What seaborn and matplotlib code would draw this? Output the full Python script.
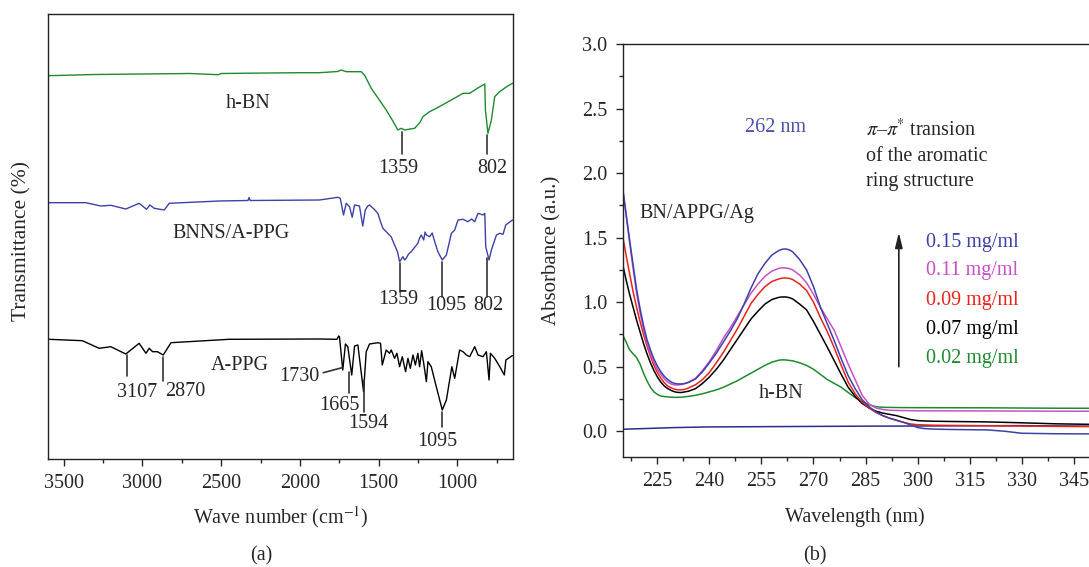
import matplotlib
matplotlib.use("Agg")
import matplotlib.pyplot as plt
import seaborn as sns
import numpy as np
from matplotlib.ticker import MultipleLocator

# ---------------- data: (a) FTIR spectra ----------------
hbn_wn = [3600, 3300, 3000, 2700, 2520, 2500, 2200, 2000, 1876, 1760, 1738, 1706, 1611, 1590, 1547,
          1500, 1452, 1410, 1378, 1356, 1335, 1300, 1272, 1240, 1219, 1180, 1134, 1050, 964, 922, 870, 826,
          822, 806, 784, 763, 732, 690, 650]
hbn_t = [383.3, 384.5, 385, 385.5, 384.3, 385.5, 386, 386.3, 386.3, 387.5, 389, 387.3, 387.3, 384, 370.7,
         360, 349, 338, 329, 330.7, 329, 330, 330.7, 336, 342.3, 347, 350.7, 358, 365.7, 365.7, 371, 375,
         349, 325.7, 339, 362.3, 367.3, 372, 375.7]

bnns_wn = [3600, 3593, 3360, 3265, 3201, 3106, 3021, 2974, 2953, 2926, 2862, 2830, 2512, 2330, 2323, 2316,
           1876, 1760, 1744, 1723, 1706, 1685, 1668, 1653, 1622, 1601, 1585, 1569, 1558, 1530, 1505, 1490,
           1473, 1442, 1420, 1399, 1380, 1367, 1346, 1335, 1325, 1310, 1293, 1270, 1251, 1240, 1229, 1214,
           1205, 1197, 1176, 1160, 1144, 1124, 1096, 1070, 1038, 1017, 996, 964, 933, 910, 890, 869, 837,
           826, 820, 799, 784, 752, 731, 710, 693, 650]
bnns_t = [257, 256.3, 256.3, 253, 253.7, 250, 255.7, 249.7, 254, 250.7, 249, 255.7, 258, 258.5, 261.5, 258.5,
          259, 261.7, 260.7, 244, 255.7, 252.3, 241.7, 254, 253, 233, 249, 253, 254, 250, 245.7, 238,
          230.7, 225.7, 222, 214, 207, 197.3, 202.3, 199, 200.7, 205, 207.3, 212, 215.7, 221, 224, 219,
          227, 224, 222.3, 226, 217.3, 207.3, 199, 204, 225.7, 229, 239, 239.7, 237.3, 240, 237.3, 245.7, 244,
          245.7, 212.3, 199, 209, 224, 225.7, 224.7, 234, 239]

appg_wn = [3600, 3593, 3382, 3275, 3201, 3106, 3021, 2978, 2957, 2936, 2905, 2868, 2819, 2449, 1876, 1765,
           1754, 1749, 1728, 1711, 1696, 1671, 1653, 1632, 1596, 1579, 1558, 1505, 1488, 1477, 1452, 1431,
           1420, 1399, 1384, 1367, 1350, 1329, 1314, 1299, 1282, 1267, 1251, 1240, 1227, 1214, 1197, 1187,
           1166, 1134, 1096, 1070, 1049, 1035, 1017, 986, 964, 943, 922, 890, 869, 837, 816, 799, 790, 763,
           731, 702, 692, 652, 650]
appg_t = [119.7, 119.7, 118.3, 110.7, 112.3, 105, 115.7, 105.7, 110.7, 107.3, 107.3, 104, 116.3, 119.7, 120, 119.7,
          123, 122.3, 89, 115, 112.3, 84, 113, 114, 67.3, 107.3, 115, 116.3, 115.7, 94, 109, 105.7,
          109, 100.7, 105.7, 92.3, 102.3, 87.3, 100.7, 90.7, 104, 94, 105.7, 92.3, 108.3, 95.7, 77.3, 97.3,
          92.3, 72.3, 49, 59, 79, 92.3, 80.7, 109, 107.3, 104, 102.3, 112.3, 104, 102.3, 107.3, 79, 105.7, 100.7,
          92.3, 84, 99, 103.3, 103.3]

# peak labels (a)
hbn_peaks = [1359, 802]
bnns_peaks = [1359, 1095, 802]
appg_peaks = [3107, 2870, 1730, 1665, 1594, 1095]

# ---------------- data: (b) UV-vis spectra ----------------
wl_015 = [215, 216, 217, 218, 219, 220, 221, 222, 223, 224, 225, 226, 227, 228, 229, 230, 231, 232, 233, 234,
          236, 238, 240, 242, 244, 246, 248, 250, 252, 254, 256, 258, 260, 261, 262, 263, 264, 266, 268, 270,
          272, 274, 276, 278, 280, 282, 284, 286, 288, 290, 292, 294, 296, 298, 300, 302, 305, 310, 320, 325,
          330, 340, 350, 360]
ab_015 = [1.88, 1.68, 1.48, 1.29, 1.10, 0.95, 0.82, 0.71, 0.63, 0.56, 0.505, 0.46, 0.425, 0.40, 0.38, 0.37,
          0.366, 0.366, 0.37, 0.378, 0.405, 0.46, 0.53, 0.605, 0.69, 0.775, 0.87, 0.985, 1.11, 1.22, 1.30,
          1.365, 1.40, 1.41, 1.412, 1.405, 1.39, 1.33, 1.25, 1.12, 0.96, 0.83, 0.70, 0.56, 0.43, 0.33, 0.245,
          0.19, 0.15, 0.12, 0.10, 0.085, 0.068, 0.048, 0.028, 0.02, 0.016, 0.013, 0.01, 0.0, -0.016, -0.02,
          -0.021, -0.022]
wl_011 = [215, 216, 217, 218, 219, 220, 221, 222, 223, 224, 225, 226, 227, 228, 229, 230, 231, 232, 233, 234,
          236, 238, 240, 242, 244, 246, 248, 250, 252, 254, 256, 258, 260, 261, 262, 263, 264, 266, 268, 270,
          272, 274, 276, 278, 280, 282, 284, 286, 288, 290, 292, 295, 300, 320, 340, 360]
ab_011 = [1.88, 1.67, 1.46, 1.26, 1.07, 0.92, 0.79, 0.68, 0.60, 0.535, 0.48, 0.44, 0.405, 0.38, 0.365, 0.358,
          0.358, 0.362, 0.37, 0.38, 0.41, 0.47, 0.54, 0.625, 0.72, 0.80, 0.89, 0.98, 1.07, 1.14, 1.20, 1.24,
          1.262, 1.266, 1.265, 1.26, 1.25, 1.21, 1.15, 1.06, 0.96, 0.87, 0.78, 0.65, 0.52, 0.40, 0.28, 0.21,
          0.18, 0.168, 0.162, 0.16, 0.158, 0.157, 0.155, 0.154]
wl_009 = [215, 216, 217, 218, 219, 220, 221, 222, 223, 224, 225, 226, 227, 228, 229, 230, 231, 232, 233, 234,
          236, 238, 240, 242, 244, 246, 248, 250, 252, 254, 256, 258, 260, 261, 262, 263, 264, 266, 268, 270,
          272, 274, 276, 278, 280, 282, 284, 286, 288, 290, 292, 294, 296, 298, 300, 305, 320, 340, 360]
ab_009 = [1.51, 1.36, 1.22, 1.08, 0.96, 0.85, 0.75, 0.66, 0.58, 0.51, 0.455, 0.41, 0.375, 0.35, 0.335, 0.325,
          0.32, 0.32, 0.325, 0.335, 0.36, 0.40, 0.455, 0.53, 0.61, 0.70, 0.79, 0.89, 0.99, 1.06, 1.12, 1.16,
          1.18, 1.186, 1.187, 1.184, 1.175, 1.14, 1.09, 1.00, 0.88, 0.77, 0.645, 0.51, 0.38, 0.29, 0.225,
          0.18, 0.145, 0.12, 0.10, 0.083, 0.068, 0.056, 0.05, 0.046, 0.042, 0.037, 0.034]
wl_007 = [215, 216, 217, 218, 219, 220, 221, 222, 223, 224, 225, 226, 227, 228, 229, 230, 231, 232, 233, 234,
          236, 238, 240, 242, 244, 246, 248, 250, 252, 254, 256, 258, 260, 261, 262, 263, 264, 266, 268, 270,
          272, 274, 276, 278, 280, 282, 284, 286, 288, 290, 292, 294, 296, 298, 300, 303, 310, 320, 330, 340,
          350, 360]
ab_007 = [1.29, 1.17, 1.06, 0.96, 0.86, 0.77, 0.68, 0.60, 0.53, 0.47, 0.42, 0.38, 0.35, 0.33, 0.315, 0.305,
          0.30, 0.30, 0.305, 0.31, 0.33, 0.37, 0.42, 0.48, 0.55, 0.63, 0.71, 0.79, 0.87, 0.93, 0.985, 1.02,
          1.037, 1.04, 1.04, 1.035, 1.025, 0.985, 0.94, 0.85, 0.75, 0.65, 0.545, 0.44, 0.34, 0.27, 0.215,
          0.18, 0.155, 0.14, 0.13, 0.12, 0.105, 0.09, 0.082, 0.078, 0.075, 0.072, 0.065, 0.057, 0.053, 0.05]
wl_002 = [215, 216, 217, 218, 219, 220, 221, 222, 223, 224, 225, 226, 228, 230, 232, 234, 236, 238, 240,
          242, 244, 246, 248, 250, 252, 254, 256, 258, 260, 261, 262, 264, 266, 268, 270, 272, 274, 276, 278,
          280, 282, 284, 286, 288, 290, 295, 300, 320, 340, 360]
ab_002 = [0.746, 0.69, 0.63, 0.60, 0.57, 0.52, 0.45, 0.39, 0.34, 0.305, 0.285, 0.272, 0.265, 0.262, 0.263,
          0.27, 0.278, 0.29, 0.305, 0.32, 0.34, 0.365, 0.39, 0.42, 0.45, 0.48, 0.51, 0.535, 0.55, 0.553,
          0.552, 0.545, 0.53, 0.51, 0.48, 0.44, 0.40, 0.37, 0.34, 0.30, 0.26, 0.23, 0.205, 0.19, 0.185,
          0.183, 0.182, 0.181, 0.178, 0.177]
wl_base = [215, 230, 240, 255, 270, 285, 300, 315, 330, 345, 360]
ab_base = [0.015, 0.028, 0.033, 0.035, 0.037, 0.039, 0.04, 0.042, 0.043, 0.04, 0.036]

conc_labels = ["0.15 mg/ml", "0.11 mg/ml", "0.09 mg/ml", "0.07 mg/ml", "0.02 mg/ml"]

# ---------------- style ----------------
sns.set_style("ticks")
plt.rcParams["font.family"] = ["Liberation Serif", "DejaVu Serif"]
plt.rcParams["mathtext.fontset"] = "stix"
plt.rcParams["axes.linewidth"] = 1.0
FS = 14.5

GREEN = "#1f8a2e"
BLUE = "#3c42a8"
MAG = "#c850c8"
RED = "#e82418"
NAVY = "#2b2d8c"
TXTBLUE = "#4a50b4"

fig = plt.figure(figsize=(10.89, 5.67), dpi=100)
W, H = 1089.0, 567.0

# ---------------- panel (a) ----------------
axa = fig.add_axes([48 / W, (H - 459) / H, 464.5 / W, 445 / H])
lw = 1.0
sns.lineplot(x=hbn_wn, y=hbn_t, ax=axa, color=GREEN, lw=lw, sort=False, estimator=None)
sns.lineplot(x=bnns_wn, y=bnns_t, ax=axa, color=BLUE, lw=lw, sort=False, estimator=None)
sns.lineplot(x=appg_wn, y=appg_t, ax=axa, color="black", lw=lw, sort=False, estimator=None)
axa.set_xlim(3600, 650)
axa.set_ylim(0, 445)
axa.set_yticks([])
axa.xaxis.set_major_locator(MultipleLocator(500))
axa.xaxis.set_minor_locator(MultipleLocator(250))
axa.tick_params(axis="x", which="major", direction="out", length=5, width=1, labelsize=FS, pad=6, top=False)
axa.tick_params(axis="x", which="minor", direction="out", length=3, width=1, top=False)
for s in axa.spines.values():
    s.set_color("#222222")
axa.set_xlabel(r"Wave number (cm$^{-1}$)", fontsize=FS, va="center")
axa.xaxis.set_label_coords(0.5, -0.131)
axa.set_ylabel("Transmittance (%)", fontsize=15.5, va="center")
axa.yaxis.set_label_coords((22 - 48) / 464.5, (459 - 241) / 445)

tl = dict(color="#333333", lw=1.2)
# h-BN annotations
hbn_line_x = [1354, 810]
hbn_line_top = [327, 324]
hbn_lab_x = [1377, 776]
for p, lx, top, tx in zip(hbn_peaks, hbn_line_x, hbn_line_top, hbn_lab_x):
    axa.plot([lx, lx], [top, 305], **tl)
    axa.text(tx, 290.7, str(p), fontsize=FS, ha="center", va="center")
axa.text(2330, 355.7, "h-BN", fontsize=FS, ha="center", va="center")
# BNNS annotations
bnns_line_x = [1367, 1097, 810]
bnns_line_top = [195.7, 197.3, 200.7]
bnns_line_bot = [167, 162, 162]
bnns_lab_x = [1377, 1071, 801]
bnns_lab_y = [159, 154, 154]
for p, lx, top, bot, tx, ty in zip(bnns_peaks, bnns_line_x, bnns_line_top, bnns_line_bot, bnns_lab_x, bnns_lab_y):
    axa.plot([lx, lx], [top, bot], **tl)
    axa.text(tx, ty, str(p), fontsize=FS, ha="center", va="center")
axa.text(2440, 225.7, "BNNS/A-PPG", fontsize=FS, ha="center", va="center")
# A-PPG annotations
appg_lines = [((3101, 104), (3101, 83.3)), ((2871, 101.7), (2871, 78.3)), ((1732, 91.3), (1852, 86.3)),
              ((1688, 87.3), (1688, 65.7)), ((1596, 79), (1596, 47.3)), ((1097, 47.3), (1097, 32.3))]
appg_labpos = [(3036, 66.3), (2728, 68), (2006, 82.3), (1748, 54), (1568, 35), (1130, 17.3)]
for p, (a, b), (tx, ty) in zip(appg_peaks, appg_lines, appg_labpos):
    axa.plot([a[0], b[0]], [a[1], b[1]], **tl)
    axa.text(tx, ty, str(p), fontsize=FS, ha="center", va="center")
axa.text(2379, 94, "A-PPG", fontsize=FS, ha="center", va="center")

# ---------------- panel (b) ----------------
axb = fig.add_axes([622.7 / W, (H - 457) / H, 503 / W, 413 / H])
lw2 = 1.1
sns.lineplot(x=wl_base, y=ab_base, ax=axb, color=NAVY, lw=lw2, sort=False, estimator=None)
sns.lineplot(x=wl_002, y=ab_002, ax=axb, color=GREEN, lw=lw2, sort=False, estimator=None)
sns.lineplot(x=wl_007, y=ab_007, ax=axb, color="black", lw=lw2, sort=False, estimator=None)
sns.lineplot(x=wl_009, y=ab_009, ax=axb, color=RED, lw=lw2, sort=False, estimator=None)
sns.lineplot(x=wl_011, y=ab_011, ax=axb, color=MAG, lw=lw2, sort=False, estimator=None)
sns.lineplot(x=wl_015, y=ab_015, ax=axb, color=BLUE, lw=lw2, sort=False, estimator=None)
axb.set_xlim(215, 360)
axb.set_ylim(-0.2, 3.0)
axb.set_xticks(np.arange(225, 361, 15))
axb.xaxis.set_minor_locator(MultipleLocator(7.5))
axb.yaxis.set_major_locator(MultipleLocator(0.5))
axb.yaxis.set_minor_locator(MultipleLocator(0.25))
axb.yaxis.set_major_formatter(matplotlib.ticker.FormatStrFormatter("%.1f"))
axb.tick_params(which="major", direction="out", length=5, width=1, labelsize=FS, pad=6)
axb.tick_params(which="minor", direction="out", length=3, width=1)
for s in axb.spines.values():
    s.set_color("#222222")
axb.set_xlabel("Wavelength (nm)", fontsize=FS, va="center")
axb.xaxis.set_label_coords((855 - 622.7) / 503, -0.146)
axb.set_ylabel("Absorbance (a.u.)", fontsize=15, va="center")
axb.yaxis.set_label_coords((552 - 622.7) / 503, 0.5)

axb.text(259.1, 2.35, "262 nm", color=TXTBLUE, fontsize=FS, ha="center", va="center")
axb.text(285.1, 2.33, r"$\pi$–$\pi$$^{*}$ transion", fontsize=FS, ha="left", va="center")
axb.text(285.1, 2.129, "of the aromatic", fontsize=FS, ha="left", va="center")
axb.text(285.1, 1.935, "ring structure", fontsize=FS, ha="left", va="center")
axb.text(219.9, 1.69, "BN/APPG/Ag", fontsize=FS, ha="left", va="center")
axb.text(260.6, 0.295, "h-BN", fontsize=FS, ha="center", va="center")
axb.annotate("", xy=(294.6, 1.54), xytext=(294.6, 0.5),
             arrowprops=dict(arrowstyle="-|>,head_length=0.9,head_width=0.22", color="#222222", lw=1.2,
                             shrinkA=0, shrinkB=0))
conc_colors = [BLUE, MAG, RED, "black", GREEN]
conc_y = [1.465, 1.245, 1.012, 0.791, 0.566]
for lab, c, yy in zip(conc_labels, conc_colors, conc_y):
    axb.text(302.4, yy, lab, color=c, fontsize=FS, ha="left", va="center")

fig.text(261.7 / W, 1 - 556 / H, "(a)", fontsize=FS, ha="center", va="center")
fig.text(814.9 / W, 1 - 556 / H, "(b)", fontsize=FS, ha="center", va="center")

fig.savefig("out.png", dpi=100)
